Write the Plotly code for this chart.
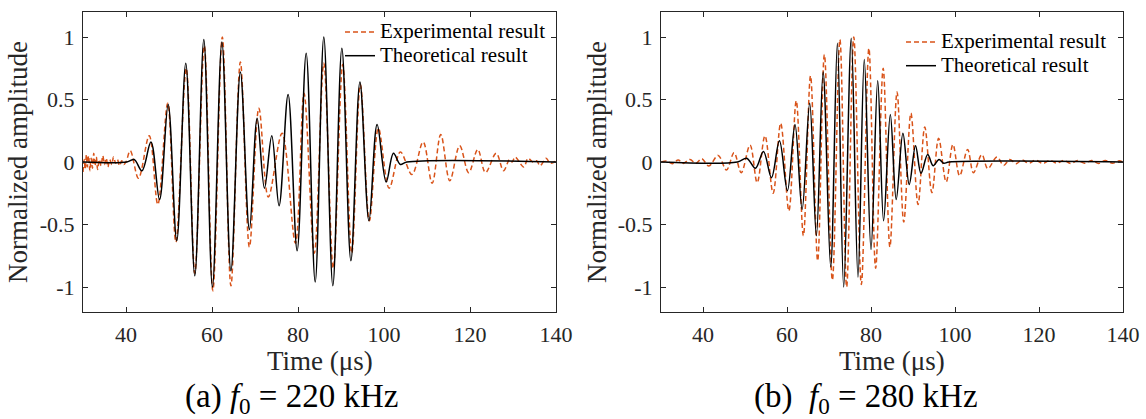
import plotly.graph_objects as go

# ---------------- data ----------------
# (a) f0 = 220 kHz : theoretical result (extrema of the waveform)
theo_a_t = [30, 40.2, 41.9, 43.7, 45.8, 47.8, 49.8, 51.8, 53.9, 56.0, 58.1, 60.1, 62.3, 64.4,
            66.6, 68.7, 70.5, 72.2, 73.9, 75.6, 77.7, 79.8, 81.9, 84.0, 86.0, 88.1, 90.2,
            92.3, 94.4, 96.5, 98.4, 100.5, 102.2, 103.8, 105.3, 140]
theo_a_y = [0, 0, 0.02, -0.07, 0.16, -0.30, 0.46, -0.63, 0.79, -0.91, 0.98, -1.00, 0.96, -0.87,
            0.72, -0.54, 0.35, -0.21, 0.21, -0.35, 0.54, -0.71, 0.87, -0.96, 1.00, -0.99, 0.91,
            -0.79, 0.64, -0.47, 0.30, -0.16, 0.07, -0.02, 0, 0]

# (a) f0 = 220 kHz : experimental result
exp_a_t = [30.0, 30.3, 30.5, 30.8, 31.0, 31.3, 31.6, 31.9, 32.2, 32.5, 32.8, 33.1, 33.4, 33.8,
           34.2, 34.6, 35.0, 35.4, 35.8, 36.2, 36.7, 37.1, 37.6, 38.0, 38.5, 39.0, 39.5, 40.0,
           41.0, 42.9, 45.4, 47.4, 49.7, 51.6, 54.0, 56.0, 58.2, 60.2, 62.4, 64.4, 66.6, 68.7,
           70.9, 73.1, 76.3, 79.4, 81.4, 83.8, 86.0, 88.2, 90.4, 92.5, 94.5, 96.6, 98.7, 101.2,
           103.8, 106.5, 109.1, 111.2, 113.2, 115.3, 117.6, 119.7, 121.8, 123.6, 126.1, 127.8,
           129.2, 129.8, 130.5, 132.5, 133.5, 134.6, 135.5, 136.3, 137.7, 138.6, 139.6, 140.0]
exp_a_y = [-0.08, 0.02, -0.06, 0.06, -0.04, 0.05, -0.07, 0.03, -0.05, 0.07, -0.03, 0.04, -0.06, 0.02,
           -0.03, 0.05, -0.02, 0.03, -0.04, 0.02, -0.02, 0.04, -0.01, 0.02, -0.03, 0.01, -0.02, 0.0,
           0.09, -0.13, 0.21, -0.34, 0.47, -0.64, 0.75, -0.89, 0.93, -1.03, 1.00, -0.99, 0.80, -0.68,
           0.43, -0.28, 0.23, -0.65, 0.55, -0.73, 0.79, -0.85, 0.78, -0.73, 0.62, -0.47, 0.27, -0.21,
           0.08, -0.10, 0.16, -0.17, 0.22, -0.15, 0.13, -0.085, 0.10, -0.085, 0.07, -0.07,
           0.02, 0.0, 0.04, -0.04, 0.03, 0.0, 0.01, -0.03, 0.03, -0.01, 0.0, 0.01]

# (b) f0 = 280 kHz : theoretical result
theo_b_t = [30, 48.2, 50.4, 52.5, 54.4, 56.3, 58.2, 60.1, 61.9, 63.6, 65.4, 67.0, 68.6, 70.4,
            72.0, 73.5, 75.3, 76.9, 78.4, 80.0, 81.6, 83.0, 84.6, 86.0, 87.6, 89.1, 90.6, 91.9,
            93.5, 94.8, 96.2, 97.3, 98.6, 140]
theo_b_y = [0, 0, 0.03, -0.05, 0.085, -0.125, 0.17, -0.23, 0.30, -0.38, 0.47, -0.59, 0.72, -0.84,
            0.95, -1.00, 0.99, -0.92, 0.82, -0.70, 0.65, -0.47, 0.38, -0.30, 0.23, -0.18, 0.13, -0.09,
            0.06, -0.03, 0.02, -0.01, 0, 0]

# (b) f0 = 280 kHz : experimental result
exp_b_t = [30.1, 31.4, 32.7, 34.1, 35.3, 36.9, 38.3, 39.7, 41.4, 43.6, 45.6, 47.4, 49.1,
           51.2, 52.9, 54.75, 56.7, 58.5, 60.45, 62.2, 63.9, 65.6, 67.3, 68.9, 70.8, 72.6, 74.2,
           75.9, 77.7, 79.5, 81.1, 82.9, 84.5, 86.2, 87.8, 89.5, 91.2, 92.8, 94.5, 96.1, 97.9,
           99.5, 101.1, 103.0, 104.4, 106.4, 107.8, 110.0, 111.6, 113.0, 114.6, 115.9, 117.6,
           119.2, 120.9, 122.6, 124.2, 125.9, 127.5, 129.2, 130.9, 132.5, 134.2, 135.8, 137.5,
           139.1, 140.0]
exp_b_y = [0.0, 0.008, -0.013, 0.016, -0.011, 0.021, -0.011, 0.027, -0.032, 0.053, -0.064, 0.075, -0.085,
           0.135, -0.165, 0.21, -0.25, 0.31, -0.39, 0.49, -0.59, 0.69, -0.79, 0.86, -0.945, 0.98, -1.0,
           1.0, -0.98, 0.91, -0.85, 0.75, -0.68, 0.56, -0.48, 0.39, -0.34, 0.28, -0.245, 0.19, -0.16,
           0.14, -0.11, 0.10, -0.085, 0.06, -0.053, 0.04, -0.027, 0.02, -0.013, 0.016, -0.01,
           0.015, -0.012, 0.014, -0.01, 0.013, -0.012, 0.012, -0.01, 0.013, -0.011, 0.012, -0.01,
           0.01, 0.0]

x_ticks = [40, 60, 80, 100, 120, 140]
y_ticks = [-1, -0.5, 0, 0.5, 1]
y_tick_text = ["-1", "-0.5", "0", "0.5", "1"]

series_names = ["Experimental result", "Theoretical result"]
x_title = "Time (\u03bcs)"
y_title = "Normalized amplitude"
captions = ["(a) <i>f</i><sub>0</sub> = 220 kHz", "(b)\u00a0 <i>f</i><sub>0</sub> = 280 kHz"]

# ---------------- styling ----------------
FONT = "Liberation Serif"
ORANGE = "#D95319"
W, H = 1146, 419

fig = go.Figure()

panels = [
    dict(xa="x", ya="y", leg="legend", tt=theo_a_t, ty=theo_a_y, et=exp_a_t, ey=exp_a_y),
    dict(xa="x2", ya="y2", leg="legend2", tt=theo_b_t, ty=theo_b_y, et=exp_b_t, ey=exp_b_y),
]
for p in panels:
    fig.add_trace(go.Scatter(x=p["et"], y=p["ey"], mode="lines",
                             name='<span style="font-size:21px">%s</span>' % series_names[0],
                             line=dict(color=ORANGE, width=1.5, dash="5px,3px", shape="spline", smoothing=1.0),
                             xaxis=p["xa"], yaxis=p["ya"], legend=p["leg"]))
    fig.add_trace(go.Scatter(x=p["tt"], y=p["ty"], mode="lines",
                             name='<span style="font-size:21px">%s</span>' % series_names[1],
                             line=dict(color="black", width=1.5, shape="spline", smoothing=1.0),
                             xaxis=p["xa"], yaxis=p["ya"], legend=p["leg"]))

axis_common = dict(showline=True, linecolor="#262626", linewidth=1, mirror="ticks",
                   ticks="inside", ticklen=5, tickcolor="#262626", showgrid=False, zeroline=False,
                   tickfont=dict(family=FONT, size=22, color="#262626"))

TITLE_FONT = dict(family=FONT, size=27, color="#262626")
ydom = [1 - 312 / H, 1 - 12 / H]
xdom_a = [83 / W, 556 / W]
xdom_b = [661 / W, 1123 / W]
fig.update_layout(
    template="none",
    width=W, height=H,
    margin=dict(l=0, r=0, t=0, b=0, pad=0),
    paper_bgcolor="white", plot_bgcolor="white",
    font=dict(family=FONT, color="black"),
    showlegend=True,
    xaxis=dict(domain=xdom_a, range=[30, 140], tickvals=x_ticks, anchor="y",
               automargin=False, ticklabelstandoff=3, **axis_common),
    yaxis=dict(domain=ydom, range=[-1.2, 1.2], tickvals=y_ticks, ticktext=y_tick_text, anchor="x",
               title=dict(text=y_title, font=TITLE_FONT, standoff=4),
               automargin="width", ticklabelstandoff=3, **axis_common),
    xaxis2=dict(domain=xdom_b, range=[30, 140], tickvals=x_ticks, anchor="y2",
                automargin=False, ticklabelstandoff=3, **axis_common),
    yaxis2=dict(domain=ydom, range=[-1.2, 1.2], tickvals=y_ticks, ticktext=y_tick_text, anchor="x2",
                title=dict(text=y_title, font=TITLE_FONT, standoff=3),
                automargin="width", ticklabelstandoff=3, **axis_common),
    legend=dict(x=340 / W, y=1 - 15 / H, xanchor="left", yanchor="top", borderwidth=0,
                bgcolor="rgba(0,0,0,0)", font=dict(family=FONT, size=16, color="black")),
    legend2=dict(x=901 / W, y=1 - 25 / H, xanchor="left", yanchor="top", borderwidth=0,
                 bgcolor="rgba(0,0,0,0)", font=dict(family=FONT, size=16, color="black")),
)

# x-axis titles (placed under the tick labels)
for dom, cy in zip([xdom_a, xdom_b], [361, 361]):
    fig.add_annotation(x=(dom[0] + dom[1]) / 2, y=1 - cy / H, xref="paper", yref="paper",
                       text=x_title, showarrow=False, xanchor="center", yanchor="middle",
                       font=TITLE_FONT)

# panel captions
for cx, text in zip([291, 866], captions):
    fig.add_annotation(x=cx / W, y=1 - 398 / H, xref="paper", yref="paper", text=text,
                       showarrow=False, xanchor="center", yanchor="middle",
                       font=dict(family=FONT, size=33, color="black"))

fig.write_html("out.html", config={"displayModeBar": False},
               post_script="document.body.style.margin='0px';")
